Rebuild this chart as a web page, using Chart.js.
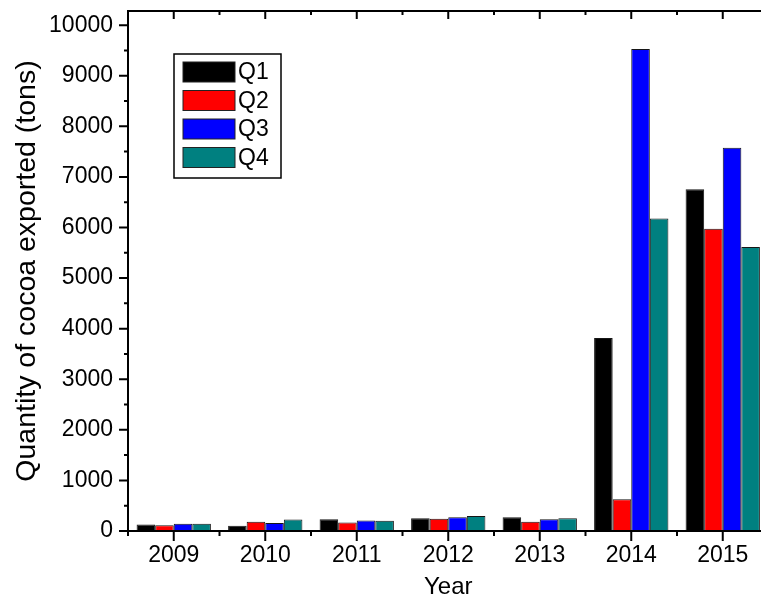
<!DOCTYPE html>
<html><head><meta charset="utf-8">
<script src="https://cdn.jsdelivr.net/npm/chart.js@4.4.0/dist/chart.umd.min.js"></script>
<style>
html,body{margin:0;padding:0;overflow:hidden;background:#fff}
#wrap{position:relative;width:780px;height:594px}
</style>
</head><body>
<div id="wrap"><canvas id="c" width="780" height="594" style="width:780px;height:594px"></canvas></div>
<script>
const years = ['2009','2010','2011','2012','2013','2014','2015'];
const q1 = [130,105,230,250,270,3815,6755];
const q2 = [115,185,170,240,185,630,5975];
const q3 = [145,160,210,270,230,9530,7575];
const q4 = [145,225,205,295,250,6180,5615];
const seriesNames = ['Q1','Q2','Q3','Q4'];
const seriesColors = ['#000000','#ff0000','#0000ff','#008080'];
const yTicks = [0,1000,2000,3000,4000,5000,6000,7000,8000,9000,10000];
const yMinorTicks = [500,1500,2500,3500,4500,5500,6500,7500,8500,9500];
const yMax = 10280;
const FONT = "'Liberation Sans', Arial, sans-serif";

const framePlugin = {
  id: 'frame',
  afterDraw(chart) {
    const ctx = chart.ctx;
    const a = chart.chartArea;
    const xs = chart.scales.x, ys = chart.scales.y;
    ctx.save();
    ctx.strokeStyle = '#000';
    ctx.lineWidth = 2;
    ctx.lineCap = 'butt';
    ctx.beginPath();
    ctx.moveTo(a.left, a.top); ctx.lineTo(a.right, a.top);
    ctx.moveTo(a.left, a.bottom); ctx.lineTo(a.right, a.bottom);
    ctx.moveTo(a.left, a.top - 1); ctx.lineTo(a.left, a.bottom + 4);
    ctx.moveTo(a.right, a.top - 1); ctx.lineTo(a.right, a.bottom + 1);
    yTicks.forEach(v => { const y = ys.getPixelForValue(v); ctx.moveTo(a.left - 9, y); ctx.lineTo(a.left, y); });
    yMinorTicks.forEach(v => { const y = ys.getPixelForValue(v); ctx.moveTo(a.left - 4, y); ctx.lineTo(a.left, y); });
    const n = years.length;
    for (let i = 0; i < n; i++) {
      const x = xs.getPixelForValue(i);
      ctx.moveTo(x, a.bottom); ctx.lineTo(x, a.bottom + 10);
      ctx.moveTo(x, a.top); ctx.lineTo(x, a.top + 8);
    }
    for (let i = 0; i <= n; i++) {
      const x = xs.getPixelForValue(i - 0.5);
      ctx.moveTo(x, a.bottom); ctx.lineTo(x, a.bottom + 5);
      ctx.moveTo(x, a.top); ctx.lineTo(x, a.top + 4);
    }
    ctx.stroke();

    const bx = a.left + 46, by = a.top + 43, bw = 107, bh = 124;
    ctx.lineWidth = 1.5;
    ctx.strokeRect(bx, by, bw, bh);
    ctx.font = '23px ' + FONT;
    ctx.textBaseline = 'middle';
    ctx.textAlign = 'left';
    chart.data.datasets.forEach((ds, i) => {
      const sy = by + 8 + i * 28.5;
      ctx.fillStyle = ds.backgroundColor;
      ctx.fillRect(bx + 9, sy, 52, 20);
      ctx.lineWidth = 1;
      ctx.strokeStyle = '#222';
      ctx.strokeRect(bx + 9, sy, 52, 20);
      ctx.fillStyle = '#000';
      ctx.fillText(ds.label, bx + 64, sy + 11);
    });
    ctx.restore();
  }
};

const seriesValues = [q1, q2, q3, q4];
const datasets = seriesNames.map((name, i) => ({
  label: name,
  data: seriesValues[i],
  backgroundColor: seriesColors[i],
  borderColor: 'rgba(10,10,10,0.95)',
  borderWidth: 1,
  categoryPercentage: 0.812,
  barPercentage: 1
}));

new Chart(document.getElementById('c').getContext('2d'), {
  type: 'bar',
  data: { labels: years, datasets },
  options: {
    responsive: false,
    animation: false,
    devicePixelRatio: 1,
    layout: { padding: { top: 11, right: 11.5, left: 0, bottom: 0 } },
    plugins: { legend: { display: false }, tooltip: { enabled: false } },
    scales: {
      x: {
        offset: true,
        grid: { display: false, drawTicks: false },
        border: { display: false },
        ticks: { padding: 11, color: '#000', font: { family: FONT, size: 23 }, maxRotation: 0, autoSkip: false },
        title: { display: true, text: 'Year', color: '#000', font: { family: FONT, size: 24 }, padding: { top: 0, bottom: -8 } },
        afterFit(s) { s.height = 63; s.paddingLeft = 0; s.paddingRight = 0; }
      },
      y: {
        min: 0, max: yMax,
        grid: { display: false, drawTicks: false },
        border: { display: false },
        afterBuildTicks(s) { s.ticks = yTicks.map(v => ({ value: v })); },
        ticks: { padding: 15, color: '#000', font: { family: FONT, size: 23 }, callback: v => String(v) },
        title: { display: true, text: 'Quantity of cocoa exported (tons)', color: '#000', font: { family: FONT, size: 28.5 }, padding: { top: 10, bottom: 0 } },
        afterFit(s) { s.width = 128; s.paddingTop = 0; s.paddingBottom = 0; }
      }
    }
  },
  plugins: [framePlugin]
});
</script>
</body></html>
